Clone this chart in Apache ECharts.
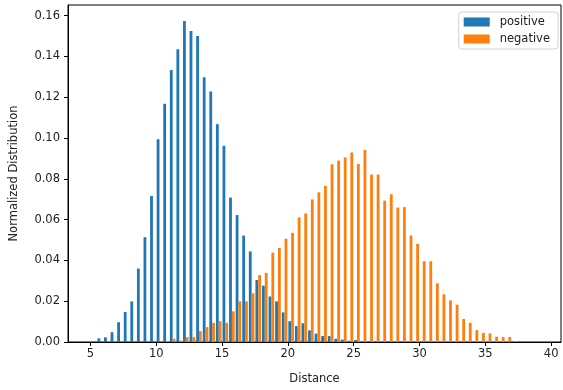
<!DOCTYPE html>
<html>
<head>
<meta charset="utf-8">
<script src="https://cdn.jsdelivr.net/npm/echarts@6/dist/echarts.min.js"></script>
<style>
html,body{margin:0;padding:0;background:#fff;}
#main{width:563px;height:390px;}
</style>
</head>
<body>
<div id="main"></div>
<script>
// bin centres (bin width 0.5)
var binCenters = [5.25,5.75,6.25,6.75,7.25,7.75,8.25,8.75,9.25,9.75,
    10.25,10.75,11.25,11.75,12.25,12.75,13.25,13.75,14.25,14.75,
    15.25,15.75,16.25,16.75,17.25,17.75,18.25,18.75,19.25,19.75,
    20.25,20.75,21.25,21.75,22.25,22.75,23.25,23.75,24.25,24.75,
    25.25,25.75,26.25,26.75,27.25,27.75,28.25,28.75,29.25,29.75,
    30.25,30.75,31.25,31.75,32.25,32.75,33.25,33.75,34.25,34.75,
    35.25,35.75,36.25,36.75,37.25,37.75,38.25,38.75];

var positiveVals = [0.0002,0.0018,0.0023,0.0048,0.0097,0.0147,0.0199,0.036,0.0514,0.0716,
    0.0994,0.1168,0.1333,0.1435,0.1573,0.1524,0.150,0.1298,0.1228,0.1068,
    0.0962,0.0708,0.0622,0.0522,0.0444,0.0304,0.0276,0.0223,0.0199,0.0145,
    0.0102,0.0078,0.0092,0.0057,0.0041,0.0029,0.0029,0.0016,0.0012,0.0006,
    0.001,0.0005,0.0004,0.0003,0.0002,0.0002,0.0001,0.0002,0.0001,0.0001,
    0.0001,0.0001,0,0,0,0,0,0,0,0,
    0,0,0,0,0,0,0,0];

var negativeVals = [0,0,0,0,0,0,0,0,0,0,
    0.0001,0.0003,0.0016,0.0007,0.0024,0.0024,0.0053,0.0073,0.0094,0.0102,
    0.0094,0.015,0.0199,0.0199,0.0239,0.0328,0.0339,0.0438,0.0461,0.0506,
    0.0535,0.0611,0.063,0.0699,0.0734,0.0765,0.0871,0.0889,0.0905,0.0929,
    0.0873,0.0942,0.0821,0.0821,0.0693,0.0724,0.0659,0.0661,0.0522,0.0481,
    0.0396,0.0396,0.0288,0.0234,0.0204,0.0183,0.0113,0.0094,0.0058,0.0045,
    0.0042,0.0026,0.0024,0.0024,0.0005,0.0003,0.0002,0.0002];

var xTicks = [5,10,15,20,25,30,35,40];
var seriesNames = ['positive','negative'];
var seriesColors = ['#1f77b4','#ff7f0e'];

var font = 'DejaVu Sans';

function pairs(vals){
    var out = [];
    for (var i = 0; i < binCenters.length; i++) out.push([binCenters[i], vals[i]]);
    return out;
}

var chart = echarts.init(document.getElementById('main'), null, {renderer:'canvas'});

var option = {
    animation:false,
    backgroundColor:'#fff',
    textStyle:{fontFamily:font},
    grid:{left:66, right:2, top:5, bottom:44, show:true, borderColor:'#000', borderWidth:1, backgroundColor:'transparent'},
    legend:{
        orient:'vertical', right:5, top:12,
        data:seriesNames,
        icon:'rect', itemWidth:26, itemHeight:9, itemGap:5,
        padding:[4,8,4,5],
        borderColor:'#d0d0d0', borderWidth:1, borderRadius:3, backgroundColor:'#fff',
        textStyle:{fontFamily:font, fontSize:11.5, color:'#222', padding:[0,0,0,5]}
    },
    xAxis:{
        type:'value', min:3.3, max:40.75,
        name:'Distance', nameLocation:'middle', nameGap:31,
        nameTextStyle:{fontFamily:font, fontSize:11.5, color:'#222'},
        axisLine:{show:true, lineStyle:{color:'#000', width:1}},
        axisTick:{show:true, length:4, lineStyle:{color:'#000'}, customValues:xTicks},
        axisLabel:{fontFamily:font, fontSize:11.5, color:'#222', margin:6, customValues:xTicks},
        splitLine:{show:false}
    },
    yAxis:{
        type:'value', min:0, max:0.1652, interval:0.02,
        name:'Normalized Distribution', nameLocation:'middle', nameGap:48,
        nameTextStyle:{fontFamily:font, fontSize:11.5, color:'#222'},
        axisLine:{show:true, lineStyle:{color:'#000', width:1}},
        axisTick:{show:true, length:4, lineStyle:{color:'#000'}},
        axisLabel:{fontFamily:font, fontSize:11.5, color:'#222', margin:8,
            formatter:function(v){ return v.toFixed(2); }},
        splitLine:{show:false}
    },
    series:[
        {name:seriesNames[0], type:'bar', data:pairs(positiveVals), barWidth:2.8, barGap:'0%',
         itemStyle:{color:seriesColors[0]}},
        {name:seriesNames[1], type:'bar', data:pairs(negativeVals), barWidth:2.8, barGap:'0%',
         itemStyle:{color:seriesColors[1]}}
    ]
};

chart.setOption(option);
</script>
</body>
</html>
